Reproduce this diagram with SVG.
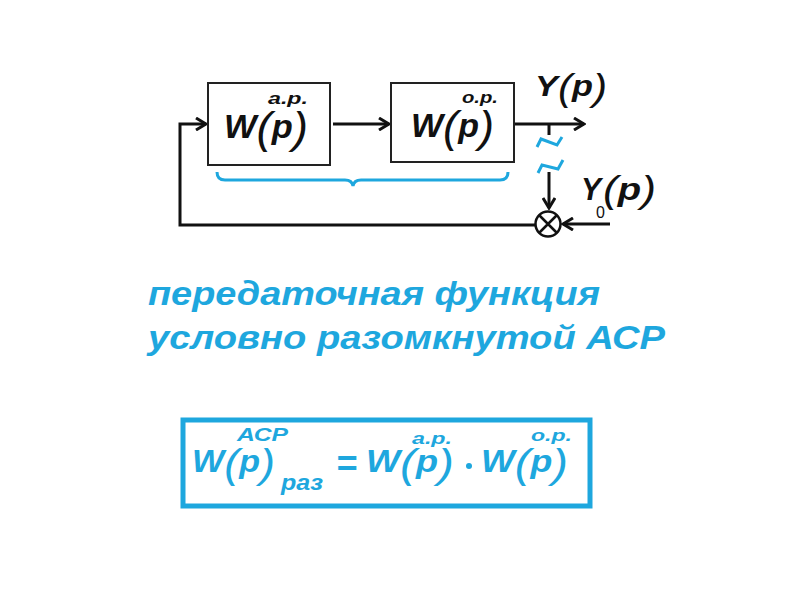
<svg xmlns="http://www.w3.org/2000/svg" width="800" height="600" viewBox="0 0 800 600">
<defs>
<style>
.ln{stroke:#111;stroke-width:3;fill:none}
.box{stroke:#222;stroke-width:2;fill:#fff}
.bl{stroke:#1ea7de;fill:none}
.t{font-family:"Liberation Sans",Arial,sans-serif;font-weight:bold;font-style:italic}
.pr{font-weight:normal}
.k{fill:#111}
.b{fill:#1ea7de}
</style>
<marker id="arr" markerWidth="14" markerHeight="14" refX="12" refY="7" orient="auto" markerUnits="userSpaceOnUse">
<path d="M2,1 L12,7 L2,13" fill="none" stroke="#111" stroke-width="3"/>
</marker>
</defs>
<rect width="800" height="600" fill="#fff"/>
<g id="connectors">
<path class="ln" d="M333,124 L389,124" marker-end="url(#arr)"/>
<path class="ln" d="M514,124 L584,124" marker-end="url(#arr)"/>
<path class="ln" d="M549,124 L549,135"/>
<path class="ln" d="M549,172 L549,208" marker-end="url(#arr)"/>
<path class="ln" d="M535,225 L180,225 L180,124 L206,124" marker-end="url(#arr)"/>
<path class="ln" d="M610,224 L563,224" marker-end="url(#arr)"/>
<path class="bl" stroke-width="3" d="M537,147 L541,139 L557,145 L562,137"/>
<path class="bl" stroke-width="3" d="M538,173 L542,165 L558,169 L563,160"/>
<path class="bl" stroke-width="3" d="M217,172 Q217,180 225,180 L345,180 Q352,180 353,186 Q354,180 361,180 L500,180 Q508,180 508,172"/>
</g>
<g id="block-ar">
<rect class="box" x="208" y="83" width="122" height="82"/>
<text class="t k" x="224" y="138" font-size="33" textLength="84" lengthAdjust="spacingAndGlyphs">W<tspan class="pr" font-size="44" dy="5">(</tspan><tspan dy="-5">p</tspan><tspan class="pr" font-size="44" dy="5">)</tspan></text>
<text class="t k" x="268" y="104" font-size="16" textLength="40" lengthAdjust="spacingAndGlyphs">а.р.</text>
</g>
<g id="block-or">
<rect class="box" x="391" y="83" width="123" height="79"/>
<text class="t k" x="411" y="137" font-size="33" textLength="83" lengthAdjust="spacingAndGlyphs">W<tspan class="pr" font-size="44" dy="5">(</tspan><tspan dy="-5">p</tspan><tspan class="pr" font-size="44" dy="5">)</tspan></text>
<text class="t k" x="462" y="103" font-size="16" textLength="36" lengthAdjust="spacingAndGlyphs">о.р.</text>
</g>
<g id="out-label">
<text class="t k" x="535" y="96" font-size="30" textLength="72" lengthAdjust="spacingAndGlyphs">Y<tspan class="pr" font-size="37" dy="4">(</tspan><tspan dy="-4">p</tspan><tspan class="pr" font-size="37" dy="4">)</tspan></text>
</g>
<g id="comparator">
<circle cx="548" cy="224" r="12.5" fill="#fff" stroke="#111" stroke-width="2.5"/>
<path d="M539,215 L557,233 M557,215 L539,233" stroke="#111" stroke-width="2.5"/>
</g>
<g id="set-label">
<text class="t k" x="581" y="200" font-size="31" textLength="20" lengthAdjust="spacingAndGlyphs">Y</text>
<text x="596" y="218" font-family="Liberation Sans,Arial,sans-serif" font-size="16" fill="#111">0</text>
<text class="t k" x="603" y="200" font-size="31" textLength="53" lengthAdjust="spacingAndGlyphs"><tspan class="pr" font-size="36" dy="2">(</tspan><tspan dy="-2">p</tspan><tspan class="pr" font-size="36" dy="2">)</tspan></text>
</g>
<g id="caption">
<text class="t b" x="148" y="305" font-size="33" textLength="452" lengthAdjust="spacingAndGlyphs">передаточная функция</text>
<text class="t b" x="148" y="349" font-size="33" textLength="517" lengthAdjust="spacingAndGlyphs">условно разомкнутой АСР</text>
</g>
<g id="formula">
<rect x="183" y="420" width="407" height="86" fill="none" stroke="#1ea7de" stroke-width="5"/>
<text class="t b" x="192" y="472" font-size="31" textLength="83" lengthAdjust="spacingAndGlyphs">W<tspan class="pr" font-size="41" dy="6">(</tspan><tspan dy="-6">p</tspan><tspan class="pr" font-size="41" dy="6">)</tspan></text>
<text class="t b" x="237" y="441" font-size="18" textLength="51" lengthAdjust="spacingAndGlyphs">АСР</text>
<text class="t b" x="281" y="490" font-size="22" textLength="42" lengthAdjust="spacingAndGlyphs">раз</text>
<text class="t b" x="336" y="476" font-size="36">=</text>
<text class="t b" x="366" y="472" font-size="31" textLength="88" lengthAdjust="spacingAndGlyphs">W<tspan class="pr" font-size="41" dy="6">(</tspan><tspan dy="-6">p</tspan><tspan class="pr" font-size="41" dy="6">)</tspan></text>
<text class="t b" x="412" y="444" font-size="17" textLength="40" lengthAdjust="spacingAndGlyphs">а.р.</text>
<circle cx="469" cy="466" r="3" fill="#1ea7de"/>
<text class="t b" x="481" y="472" font-size="31" textLength="87" lengthAdjust="spacingAndGlyphs">W<tspan class="pr" font-size="41" dy="6">(</tspan><tspan dy="-6">p</tspan><tspan class="pr" font-size="41" dy="6">)</tspan></text>
<text class="t b" x="531" y="441" font-size="17" textLength="41" lengthAdjust="spacingAndGlyphs">о.р.</text>
</g>
</svg>
